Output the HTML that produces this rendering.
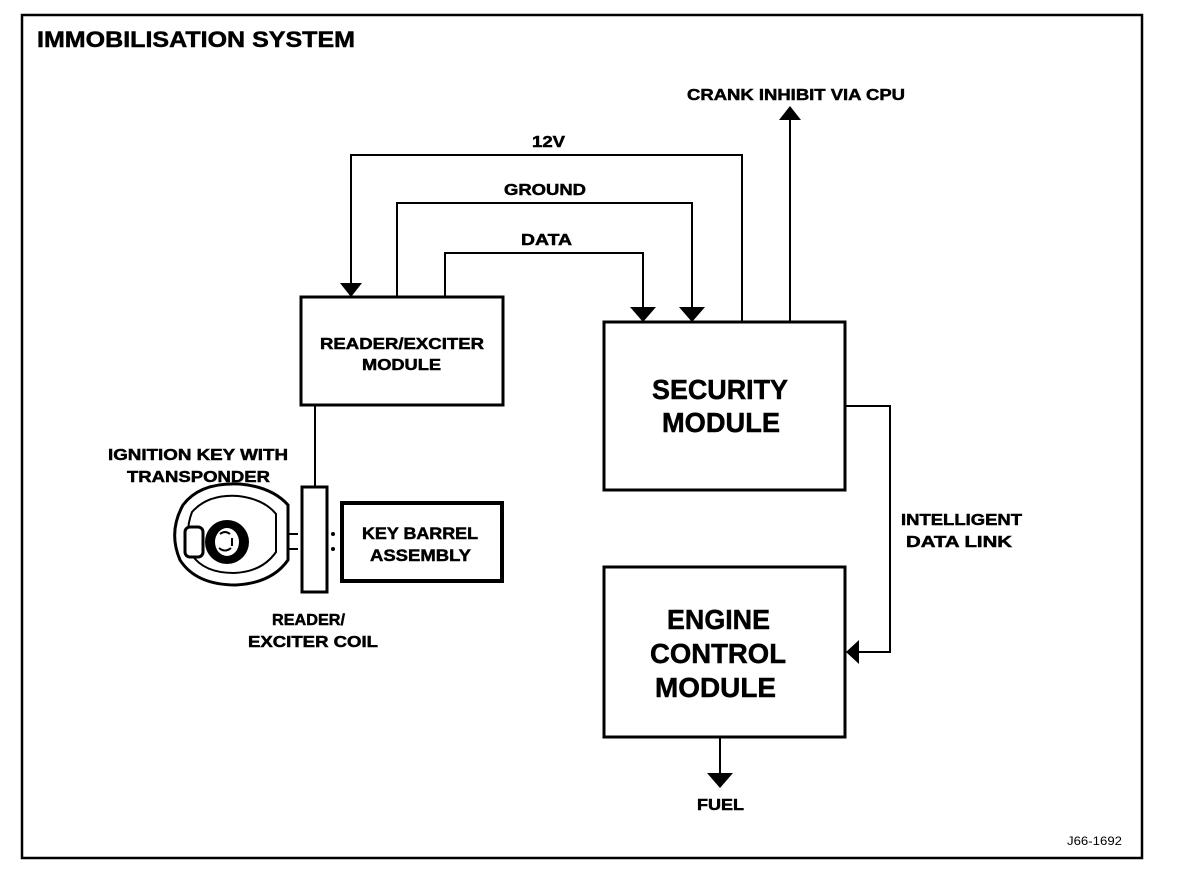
<!DOCTYPE html>
<html><head><style>
body{margin:0;background:#fff;}
svg{display:block;}
text{font-family:"Liberation Sans",Arial,sans-serif;font-weight:bold;fill:#000;stroke:#000;stroke-width:0.5;}
</style></head><body>
<svg width="1184" height="882" viewBox="0 0 1184 882" xmlns="http://www.w3.org/2000/svg">
<rect x="22" y="15" width="1120" height="843" fill="none" stroke="#000" stroke-width="2.5"/>
<text x="37" y="47" font-size="22" textLength="318" lengthAdjust="spacingAndGlyphs">IMMOBILISATION SYSTEM</text>

<rect x="301" y="297" width="202" height="108" fill="none" stroke="#000" stroke-width="3"/>
<text x="320" y="349" font-size="16" textLength="164" lengthAdjust="spacingAndGlyphs">READER/EXCITER</text>
<text x="362" y="370" font-size="16" textLength="79" lengthAdjust="spacingAndGlyphs">MODULE</text>

<rect x="604" y="322" width="241" height="168" fill="none" stroke="#000" stroke-width="3"/>
<text x="652" y="399" font-size="28" textLength="136" lengthAdjust="spacingAndGlyphs">SECURITY</text>
<text x="662" y="432" font-size="28" textLength="118" lengthAdjust="spacingAndGlyphs">MODULE</text>

<rect x="604" y="567" width="241" height="170" fill="none" stroke="#000" stroke-width="3"/>
<text x="667" y="629" font-size="28" textLength="103" lengthAdjust="spacingAndGlyphs">ENGINE</text>
<text x="650" y="663" font-size="28" textLength="136" lengthAdjust="spacingAndGlyphs">CONTROL</text>
<text x="655" y="697" font-size="28" textLength="121" lengthAdjust="spacingAndGlyphs">MODULE</text>

<rect x="342" y="503" width="160" height="78" fill="none" stroke="#000" stroke-width="4"/>
<text x="362" y="539" font-size="17" textLength="116" lengthAdjust="spacingAndGlyphs">KEY BARREL</text>
<text x="370" y="561" font-size="17" textLength="101" lengthAdjust="spacingAndGlyphs">ASSEMBLY</text>

<rect x="302" y="487" width="25" height="105" fill="none" stroke="#000" stroke-width="3"/>
<circle cx="333" cy="534" r="2" fill="#000"/>
<circle cx="333" cy="549" r="2" fill="#000"/>
<line x1="315" y1="405" x2="315" y2="487" stroke="#000" stroke-width="2"/>

<path d="M183 505 Q200 482 240 484 Q272 487 288 505 L288 560 Q272 583 236 585 Q196 585 180 560 Q168 532 183 505Z" fill="none" stroke="#000" stroke-width="3"/>
<path d="M192 512 Q208 494 238 496 Q264 499 276 514 L276 552 Q262 572 234 573 Q204 573 192 555 Q184 533 192 512Z" fill="none" stroke="#000" stroke-width="2"/>
<circle cx="227" cy="542" r="22" fill="#000"/>
<ellipse cx="227" cy="542" rx="12" ry="14" fill="#fff"/>
<path d="M220 534 q5 -4 10 0 M219 548 q6 5 12 0 M232 538 l0 8" stroke="#000" stroke-width="2" fill="none"/>
<rect x="185" y="527" width="18" height="30" rx="5" fill="#fff" stroke="#000" stroke-width="3"/>
<path d="M288 534 H298 M288 549 H298" stroke="#000" stroke-width="2"/>

<text x="108" y="460" font-size="16" textLength="180" lengthAdjust="spacingAndGlyphs">IGNITION KEY WITH</text>
<text x="127" y="482" font-size="16" textLength="143" lengthAdjust="spacingAndGlyphs">TRANSPONDER</text>
<text x="272" y="625" font-size="16" textLength="73" lengthAdjust="spacingAndGlyphs">READER/</text>
<text x="248" y="647" font-size="16" textLength="130" lengthAdjust="spacingAndGlyphs">EXCITER COIL</text>

<g stroke="#000" stroke-width="2" fill="none">
<polyline points="742,322 742,155 351,155 351,288"/>
<polyline points="397,297 397,203 692,203 692,312"/>
<polyline points="445,297 445,253 643,253 643,312"/>
<polyline points="790,322 790,118"/>
<polyline points="845,406 890,406 890,652 855,652"/>
<polyline points="720,737 720,775"/>
</g>
<g fill="#000">
<polygon points="340,283 362,283 351,297"/>
<polygon points="630,307 656,307 643,322"/>
<polygon points="679,307 705,307 692,322"/>
<polygon points="779,120 801,120 790,106"/>
<polygon points="859,640 859,664 846,652"/>
<polygon points="707,773 733,773 720,788"/>
</g>

<text x="532" y="147" font-size="16" textLength="33" lengthAdjust="spacingAndGlyphs">12V</text>
<text x="504" y="195" font-size="16" textLength="82" lengthAdjust="spacingAndGlyphs">GROUND</text>
<text x="521" y="245" font-size="16" textLength="51" lengthAdjust="spacingAndGlyphs">DATA</text>
<text x="687" y="100" font-size="16" textLength="218" lengthAdjust="spacingAndGlyphs">CRANK INHIBIT VIA CPU</text>
<text x="901" y="525" font-size="16" textLength="121" lengthAdjust="spacingAndGlyphs">INTELLIGENT</text>
<text x="906" y="547" font-size="16" textLength="106" lengthAdjust="spacingAndGlyphs">DATA LINK</text>
<text x="697" y="810" font-size="16" textLength="47" lengthAdjust="spacingAndGlyphs">FUEL</text>
<text x="1067" y="845" font-size="12" textLength="55" lengthAdjust="spacingAndGlyphs" style="font-weight:normal;stroke-width:0">J66-1692</text>
</svg>
</body></html>
